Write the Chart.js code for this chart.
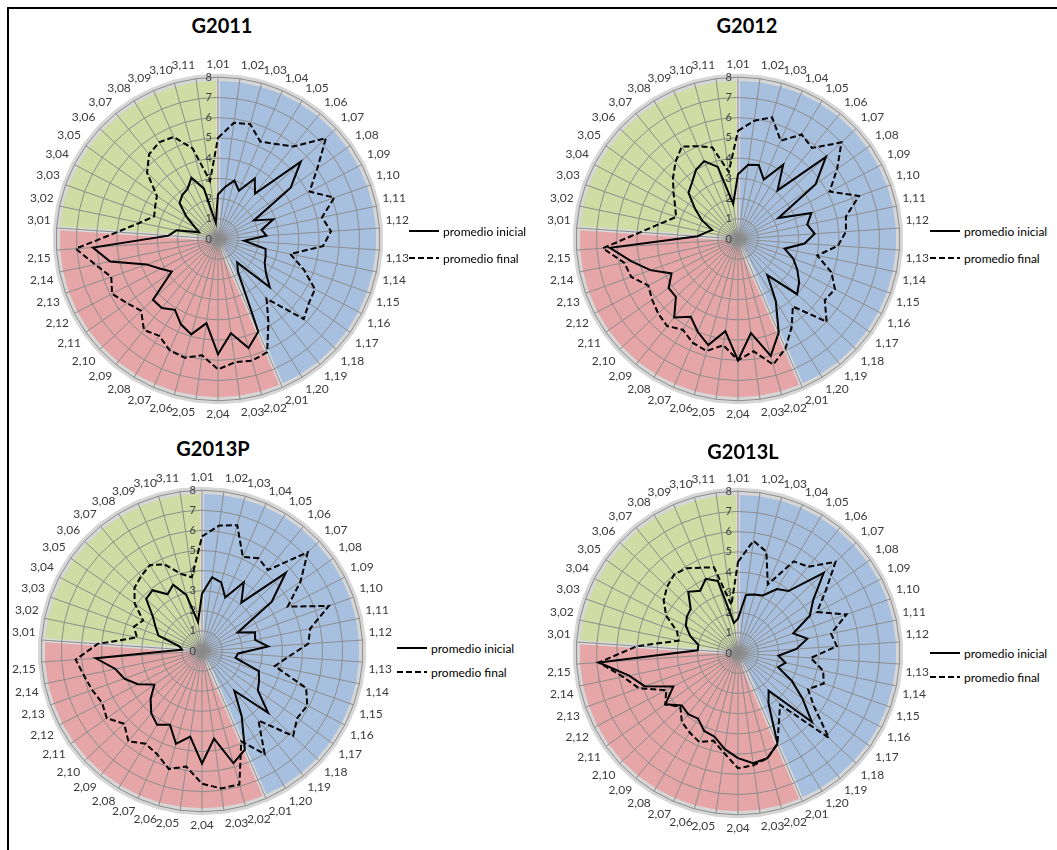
<!DOCTYPE html>
<html>
<head>
<meta charset="utf-8">
<script src="https://cdn.jsdelivr.net/npm/chart.js@4/dist/chart.umd.min.js"></script>
<style>
  html, body { margin: 0; padding: 0; background: #fff; }
  body { width: 1057px; height: 850px; position: relative; overflow: hidden; font-family: Lato, "Open Sans", sans-serif; }
  .frame { position: absolute; left: 7px; top: 7px; width: 1070px; height: 860px; border-left: 2px solid #000; border-top: 2px solid #000; }
  .panel { position: absolute; }
  .panel canvas { display: block; }
  .title { position: absolute; font: bold 20px Lato, sans-serif; color: #000; transform: translate(-50%, -50%); white-space: nowrap; }
  .legend-row { position: absolute; display: flex; align-items: center; height: 16px; font: 12px Lato, sans-serif; color: #000; white-space: nowrap; }
  .legend-row svg { display: block; }
  .legend-row span { margin-left: 4px; }
</style>
</head>
<body>
<div class="frame"></div>
<script>
// Item codes around each radar (block 1: 1,01-1,20, block 2: 2,01-2,15, block 3: 3,01-3,11)
const categories = [
  '1,01','1,02','1,03','1,04','1,05','1,06','1,07','1,08','1,09','1,10',
  '1,11','1,12','1,13','1,14','1,15','1,16','1,17','1,18','1,19','1,20',
  '2,01','2,02','2,03','2,04','2,05','2,06','2,07','2,08','2,09','2,10',
  '2,11','2,12','2,13','2,14','2,15',
  '3,01','3,02','3,03','3,04','3,05','3,06','3,07','3,08','3,09','3,10','3,11'
];

const seriesNames = ['promedio inicial', 'promedio final'];

const g2011Inicial = [
  2.2, 2.6, 3.0, 2.6, 3.5, 2.9, 5.6, 4.4, 2.0, 2.9,
  2.2, 2.4, 1.3, 2.4, 2.5, 2.6, 2.9, 3.5, 1.5, 1.9,
  5.0, 5.6, 4.7, 5.7, 4.2, 4.9, 4.6, 4.1, 4.4, 4.4,
  2.8, 3.2, 3.75, 5.45, 6.2,
  2.45, 2.1, 1.0, 1.3, 1.9, 2.6, 2.8, 2.9, 3.3, 2.6, 0.8
];
const g2011Final = [
  5.0, 5.8, 5.9, 5.25, 5.5, 5.9, 7.3, 6.0, 5.1, 6.1,
  5.25, 5.6, 5.2, 3.65, 4.5, 5.4, 5.5, 5.8, 3.8, 4.8,
  6.1, 6.25, 6.15, 6.45, 5.8, 6.1, 6.0, 5.6, 5.8, 5.2,
  5.5, 5.9, 5.6, 6.2, 7.05,
  5.0, 3.95, 3.35, 3.5, 3.7, 4.8, 5.4, 5.6, 5.5, 4.65, 2.9
];

const g2012Inicial = [
  3.2, 3.7, 3.8, 3.2, 4.3, 3.1, 5.95, 4.7, 2.25, 3.85,
  3.5, 3.8, 3.3, 2.35, 2.9, 3.3, 3.7, 4.0, 2.3, 3.6,
  5.05, 6.0, 4.7, 6.0, 4.6, 5.45, 5.0, 4.5, 5.0, 4.2,
  4.2, 3.7, 4.6, 5.4, 6.35,
  2.0, 1.6, 1.35, 2.0, 2.6, 3.35, 3.6, 4.0, 4.2, 3.7, 1.75
];
const g2012Final = [
  5.35, 5.9, 6.25, 5.3, 6.05, 5.8, 7.0, 6.0, 5.1, 6.35,
  5.45, 5.35, 4.95, 4.0, 4.9, 5.4, 5.25, 6.0, 4.3, 5.1,
  5.9, 6.45, 5.6, 6.0, 5.3, 5.75, 5.6, 5.25, 5.55, 5.4,
  5.2, 5.0, 5.6, 5.75, 6.7,
  4.85, 3.86, 3.25, 3.5, 3.9, 4.4, 4.9, 5.35, 5.0, 4.7, 3.35
];

const g2013PInicial = [
  2.85, 3.7, 3.55, 2.9, 4.0, 3.1, 5.7, 4.25, 2.0, 2.8,
  2.7, 3.3, 1.8, 1.7, 3.0, 3.2, 3.4, 4.5, 2.55, 3.8,
  5.35, 5.8, 4.4, 5.6, 4.3, 4.8, 4.0, 4.3, 4.0, 3.5,
  2.9, 3.6, 4.1, 4.4, 5.3,
  1.0, 1.15, 2.3, 2.6, 3.0, 3.8, 3.9, 3.3, 3.6, 2.9, 1.45
];
const g2013PFinal = [
  5.7, 6.3, 6.5, 5.1, 5.4, 5.2, 7.2, 6.0, 4.8, 6.7,
  5.5, 5.3, 4.3, 3.7, 5.5, 5.9, 5.8, 6.2, 4.45, 6.0,
  4.9, 6.9, 6.9, 6.6, 5.8, 6.1, 5.6, 5.4, 5.8, 5.3,
  5.8, 5.6, 5.8, 6.0, 6.3,
  5.2, 3.3, 3.6, 3.3, 4.1, 4.6, 4.8, 5.0, 4.7, 4.0, 3.7
];

const g2013LInicial = [
  1.7, 2.9, 3.0, 3.1, 3.7, 3.95, 5.8, 4.55, 4.0, 2.9,
  3.5, 2.9, 2.0, 2.4, 2.1, 3.0, 3.9, 5.0, 2.4, 2.9,
  4.9, 5.4, 5.5, 5.2, 4.8, 4.3, 4.2, 3.8, 3.9, 3.8,
  4.4, 3.6, 4.9, 5.5, 6.9,
  2.0, 2.0, 2.5, 2.9, 3.1, 3.2, 3.9, 3.6, 4.0, 3.7, 1.5
];
const g2013LFinal = [
  4.5, 5.6, 5.2, 3.7, 5.3, 5.5, 6.6, 5.3, 4.4, 5.7,
  4.7, 4.9, 3.6, 4.3, 4.5, 3.9, 4.6, 6.15, 3.3, 3.9,
  4.9, 5.4, 5.6, 5.7, 5.0, 4.5, 4.8, 4.6, 4.4, 3.9,
  4.4, 4.0, 5.2, 5.8, 6.9,
  5.0, 3.0, 3.2, 4.0, 4.5, 4.8, 5.0, 4.9, 4.6, 4.4, 2.4
];

// Background colour of each item block, keyed by the block number before the comma
const blockColors = { '1': '#a8c0df', '2': '#e6a5a6', '3': '#cfdca3' };

// Layout of the four panels
const panels = [
  { title: 'G2011',  inicial: g2011Inicial,  final: g2011Final,  cx: 218, cy: 239, radius: 162, titleX: 222, titleY: 25,  legendX: 409, legendY: 231, legendGap: 27 },
  { title: 'G2012',  inicial: g2012Inicial,  final: g2012Final,  cx: 738, cy: 239, radius: 162, titleX: 747, titleY: 25,  legendX: 930, legendY: 231, legendGap: 27 },
  { title: 'G2013P', inicial: g2013PInicial, final: g2013PFinal, cx: 202, cy: 651, radius: 161, titleX: 213, titleY: 448, legendX: 397, legendY: 648, legendGap: 24 },
  { title: 'G2013L', inicial: g2013LInicial, final: g2013LFinal, cx: 738, cy: 653, radius: 162, titleX: 743, titleY: 451, legendX: 930, legendY: 653, legendGap: 24 }
];

// Coloured block sectors, outer rim and block separators under the grid
const blockSectors = {
  id: 'blockSectors',
  beforeDraw(chart) {
    const sc = chart.scales.r;
    const ctx = chart.ctx;
    const labels = chart.data.labels;
    const n = labels.length;
    const blocks = labels.map(l => l.split(',')[0]);
    const starts = [];
    blocks.forEach((b, i) => { if (i === 0 || b !== blocks[i - 1]) starts.push(i); });
    ctx.save();
    starts.forEach((s, k) => {
      const e = k + 1 < starts.length ? starts[k + 1] : n;
      ctx.beginPath();
      ctx.moveTo(sc.xCenter, sc.yCenter);
      for (let i = s; i <= e; i++) {
        const p = sc.getPointPositionForValue(i % n, sc.max);
        ctx.lineTo(p.x, p.y);
      }
      ctx.closePath();
      ctx.fillStyle = blockColors[blocks[s]];
      ctx.fill();
    });
    ctx.beginPath();
    for (let i = 0; i < n; i++) {
      const p = sc.getPointPositionForValue(i, sc.max);
      if (i === 0) ctx.moveTo(p.x, p.y); else ctx.lineTo(p.x, p.y);
    }
    ctx.closePath();
    ctx.lineWidth = 7;
    ctx.strokeStyle = '#d6d6d6';
    ctx.stroke();
    starts.forEach(s => {
      const p = sc.getPointPositionForValue(s, sc.max);
      ctx.beginPath();
      ctx.moveTo(sc.xCenter, sc.yCenter);
      ctx.lineTo(p.x, p.y);
      ctx.lineWidth = 4;
      ctx.strokeStyle = '#dadada';
      ctx.stroke();
    });
    ctx.restore();
  },
  // grey hub where the spokes meet, and value labels 0..8 just left of the first spoke
  beforeDatasetsDraw(chart) {
    const sc = chart.scales.r;
    const ctx = chart.ctx;
    ctx.save();
    const hub = ctx.createRadialGradient(sc.xCenter, sc.yCenter, 0, sc.xCenter, sc.yCenter, 11);
    hub.addColorStop(0, 'rgba(135,135,135,0.95)');
    hub.addColorStop(0.6, 'rgba(140,140,140,0.6)');
    hub.addColorStop(1, 'rgba(150,150,150,0)');
    ctx.fillStyle = hub;
    ctx.beginPath();
    ctx.arc(sc.xCenter, sc.yCenter, 11, 0, Math.PI * 2);
    ctx.fill();

    ctx.font = '11px Lato, sans-serif';
    ctx.fillStyle = '#404040';
    ctx.textAlign = 'right';
    ctx.textBaseline = 'middle';
    sc.ticks.forEach(t => {
      const p = sc.getPointPositionForValue(0, t.value);
      ctx.fillText(t.label, p.x - 6, p.y);
    });
    ctx.restore();
  }
};

function buildPanel(panel) {
  const wrap = document.createElement('div');
  wrap.className = 'panel';
  const canvas = document.createElement('canvas');
  wrap.appendChild(canvas);
  document.body.appendChild(wrap);
  let size = 400;
  canvas.width = size; canvas.height = size;
  canvas.style.width = size + 'px'; canvas.style.height = size + 'px';

  const chart = new Chart(canvas, {
    type: 'radar',
    data: {
      labels: categories,
      datasets: [
        { label: seriesNames[0], data: panel.inicial, borderColor: '#000', borderWidth: 2, fill: false, pointRadius: 0 },
        { label: seriesNames[1], data: panel.final, borderColor: '#000', borderWidth: 2, borderDash: [6, 3], fill: false, pointRadius: 0 }
      ]
    },
    options: {
      responsive: false,
      maintainAspectRatio: false,
      animation: false,
      layout: { padding: 0 },
      elements: { line: { tension: 0 }, point: { radius: 0 } },
      plugins: { legend: { display: false }, title: { display: false }, tooltip: { enabled: false } },
      scales: {
        r: {
          min: 0, max: 8,
          ticks: { stepSize: 1, display: false },
          grid: { color: '#8d8d8d', lineWidth: 1 },
          angleLines: { color: '#8d8d8d', lineWidth: 1 },
          pointLabels: { font: { family: 'Lato', size: 12 }, color: '#3a3a3a', padding: 6 }
        }
      }
    },
    plugins: [blockSectors]
  });

  // size the canvas so the outer ring gets the wanted radius
  const r0 = chart.scales.r.drawingArea;
  size = Math.round(size + 2 * (panel.radius - r0));
  chart.resize(size, size);
  const sc = chart.scales.r;
  wrap.style.left = (panel.cx - sc.xCenter) + 'px';
  wrap.style.top = (panel.cy - sc.yCenter) + 'px';

  const title = document.createElement('div');
  title.className = 'title';
  title.textContent = panel.title;
  title.style.left = panel.titleX + 'px';
  title.style.top = panel.titleY + 'px';
  document.body.appendChild(title);

  chart.data.datasets.forEach((ds, k) => {
    const row = document.createElement('div');
    row.className = 'legend-row';
    row.style.left = panel.legendX + 'px';
    row.style.top = (panel.legendY + k * panel.legendGap - 8) + 'px';
    const dash = ds.borderDash ? ' stroke-dasharray="' + ds.borderDash.join(' ') + '"' : '';
    row.innerHTML = '<svg width="30" height="4"><line x1="0" y1="2" x2="30" y2="2" stroke="#000" stroke-width="2"' + dash + '/></svg>';
    const span = document.createElement('span');
    span.textContent = ds.label;
    row.appendChild(span);
    document.body.appendChild(row);
  });
}

panels.forEach(buildPanel);
</script>
</body>
</html>
